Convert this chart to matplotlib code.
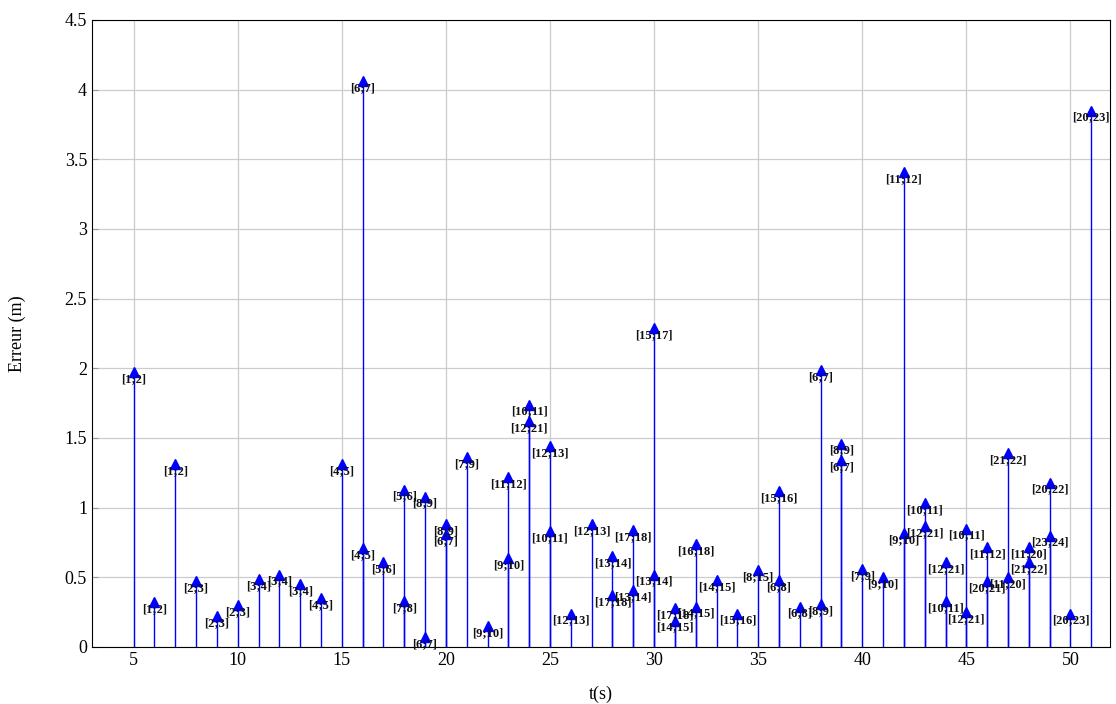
import matplotlib
matplotlib.use("Agg")
import matplotlib.pyplot as plt

# time of each estimate (s), error (m) and the pair of anchors used
times = [5, 6, 7, 8, 9, 10, 11, 12, 13, 14, 15,
         16, 16, 17, 18, 18, 19, 19, 20, 20, 21, 22, 23, 23,
         24, 24, 25, 25, 26, 27, 28, 28, 29, 29, 30, 30,
         31, 31, 32, 32, 33, 34, 35, 36, 36, 37, 38, 38,
         39, 39, 40, 41, 42, 42, 43, 43, 44, 44, 45, 45,
         46, 46, 47, 47, 48, 48, 49, 49, 50, 51]
errors = [1.97, 0.32, 1.31, 0.47, 0.22, 0.30, 0.49, 0.52, 0.45, 0.35, 1.31,
          4.06, 0.71, 0.61, 1.13, 0.33, 1.08, 0.07, 0.88, 0.81, 1.36, 0.15, 1.22, 0.64,
          1.74, 1.62, 1.44, 0.83, 0.24, 0.88, 0.65, 0.37, 0.84, 0.41, 2.29, 0.52,
          0.28, 0.19, 0.74, 0.29, 0.48, 0.24, 0.55, 1.12, 0.48, 0.29, 1.99, 0.31,
          1.46, 1.34, 0.56, 0.50, 3.41, 0.82, 1.03, 0.87, 0.61, 0.33, 0.85, 0.25,
          0.72, 0.47, 1.39, 0.50, 0.72, 0.61, 1.18, 0.80, 0.24, 3.85]
pairs = ['[1;2]', '[1;2]', '[1;2]', '[2;3]', '[2;3]', '[2;3]', '[3;4]', '[3;4]', '[3;4]', '[4;5]', '[4;5]',
         '[6;7]', '[4;5]', '[5;6]', '[5;6]', '[7;8]', '[8;9]', '[6;7]', '[8;9]', '[6;7]', '[7;9]', '[9;10]',
         '[11;12]', '[9;10]',
         '[10;11]', '[12;21]', '[12;13]', '[10;11]', '[12;13]', '[12;13]', '[13;14]', '[17;18]', '[17;18]',
         '[13;14]', '[15;17]', '[13;14]',
         '[17;18]', '[14;15]', '[16;18]', '[14;15]', '[14;15]', '[15;16]', '[8;15]', '[15;16]', '[6;8]',
         '[6;8]', '[6;7]', '[8;9]',
         '[8;9]', '[6;7]', '[7;9]', '[9;10]', '[11;12]', '[9;10]', '[10;11]', '[12;21]', '[12;21]', '[10;11]',
         '[10;11]', '[12;21]',
         '[11;12]', '[20;21]', '[21;22]', '[11;20]', '[11;20]', '[21;22]', '[20;22]', '[23;24]', '[20;23]',
         '[20;23]']

plt.rcParams['font.family'] = ['Liberation Serif', 'DejaVu Serif']

fig = plt.figure(figsize=(11.16, 7.04), dpi=100)
ax = fig.add_axes([0.0824, 0.081, 0.9122, 0.8906])

ax.vlines(times, 0, errors, color='blue', linewidth=1, zorder=3)
ax.plot(times, errors, linestyle='none', marker='^', markersize=7,
        color='blue', zorder=4)
for t, e, p in zip(times, errors, pairs):
    ax.annotate(p, (t, e), xytext=(0, -7), textcoords='offset pixels',
                ha='center', va='center', fontsize=9, fontweight='bold',
                color='#111111', zorder=5)

ax.set_xlim(3, 51.9)
ax.set_ylim(0, 4.5)
ax.set_xticks(range(5, 51, 5))
ax.set_yticks([i * 0.5 for i in range(10)])
ax.set_yticklabels(['0', '0.5', '1', '1.5', '2', '2.5', '3', '3.5', '4', '4.5'])
ax.grid(True, color='#cccccc', linewidth=0.9)
ax.set_axisbelow(True)
ax.tick_params(direction='in', labelsize=13, color='#999999', length=4)
ax.set_xlabel('t(s)', fontsize=13, labelpad=12)
ax.set_ylabel('Erreur (m)', fontsize=13, labelpad=28)

plt.savefig('out.png', dpi=100)
